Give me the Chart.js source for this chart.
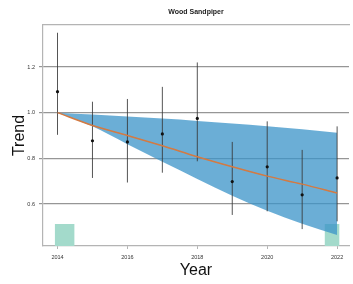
<!DOCTYPE html>
<html>
<head>
<meta charset="utf-8">
<script src="https://cdn.jsdelivr.net/npm/chart.js@4.4.1/dist/chart.umd.min.js"></script>
<style>
body{margin:0;background:#fff;}
</style>
</head>
<body>
<canvas id="trend-chart" width="353" height="284"></canvas>
<script>
//Data
const years = [2014, 2015, 2016, 2017, 2018, 2019, 2020, 2021, 2022];
const index = [1.092, 0.877, 0.872, 0.907, 0.975, 0.698, 0.763, 0.640, 0.714];
const ciLow = [0.903, 0.714, 0.694, 0.737, 0.787, 0.552, 0.568, 0.490, 0.524];
const ciHigh = [1.350, 1.048, 1.060, 1.113, 1.220, 0.872, 0.962, 0.837, 0.940];
const trend = [1.000, 0.944, 0.900, 0.855, 0.807, 0.763, 0.722, 0.687, 0.648];
const bandHigh = [1.000, 0.992, 0.983, 0.974, 0.964, 0.953, 0.941, 0.927, 0.912];
const bandLow = [1.000, 0.940, 0.862, 0.785, 0.710, 0.636, 0.570, 0.513, 0.464];
const refStart = [2013.92, 2021.64];
const refEnd = [2014.49, 2022.07];
const refTop = 0.512;
const xTicks = [2014, 2016, 2018, 2020, 2022];
const yTicks = [0.6, 0.8, 1.0, 1.2];

const chartEl = document.querySelector('#trend-chart');
const gridGrey = 'rgba(100,100,100,0.68)';
const axisGrey = '#b4b4b4';
const xMin = 2013.585, xMax = 2022.34;

Chart.defaults.font.family = '"Liberation Sans", Arial, sans-serif';

const pts = (ys) => years.map((x, i) => ({x: x, y: ys[i]}));

let datasets = [];

//points + trend
datasets.push({data: pts(index), showLine: false, pointRadius: 1.6, pointBackgroundColor: '#111',
    pointBorderWidth: 0, order: 0});
datasets.push({data: pts(trend), borderColor: 'rgb(212,122,66)', borderWidth: 1.5, pointRadius: 0,
    cubicInterpolationMode: 'monotone', fill: false, order: 1});

//error bars
years.forEach((yr, i) => {
    datasets.push({data: [{x: yr, y: ciLow[i]}, {x: yr, y: ciHigh[i]}], borderColor: 'rgba(55,55,55,0.85)',
        borderWidth: 1, pointRadius: 0, fill: false, order: 2});
});

//confidence band
datasets.push({data: pts(bandHigh), borderWidth: 0, borderColor: 'transparent', pointRadius: 0,
    cubicInterpolationMode: 'monotone', backgroundColor: 'rgba(58,147,200,0.75)', fill: '+1', order: 3});
datasets.push({data: pts(bandLow), borderWidth: 0, borderColor: 'transparent', pointRadius: 0,
    cubicInterpolationMode: 'monotone', fill: false, order: 3});

//reference blocks
refStart.forEach((s, i) => {
    datasets.push({data: [{x: s, y: refTop}, {x: refEnd[i], y: refTop}], borderWidth: 0,
        borderColor: 'transparent', pointRadius: 0, backgroundColor: 'rgb(163,218,203)', fill: 'start', order: 4});
});

const theChart = new Chart(chartEl, {
    type: 'line',
    data: {datasets: datasets},
    options: {
        responsive: false,
        animation: false,
        devicePixelRatio: 1,
        layout: {padding: 0},
        plugins: {legend: {display: false}, tooltip: {enabled: false}},
        scales: {
            x: {
                type: 'linear', position: 'bottom', min: xMin, max: xMax,
                afterBuildTicks: (s) => { s.ticks = xTicks.map(v => ({value: v})); },
                afterFit: (s) => { s.height = 38; },
                grid: {drawOnChartArea: false, drawTicks: true, tickLength: 3, color: axisGrey, lineWidth: 1},
                border: {color: axisGrey, width: 1.2},
                ticks: {font: {size: 5.5}, color: '#333', padding: 5, maxRotation: 0, callback: (v) => String(v)},
                title: {display: true, text: 'Year', font: {size: 16}, color: '#111', padding: {top: 0, bottom: 3.5}}
            },
            x2: {
                type: 'linear', position: 'top', min: xMin, max: xMax,
                ticks: {display: false},
                grid: {display: false},
                border: {color: axisGrey, width: 1.2},
                afterFit: (s) => { s.height = 25; },
                title: {display: true, text: 'Wood Sandpiper', font: {size: 7, weight: 'bold'}, color: '#222',
                    padding: {top: 7.5, bottom: 0}}
            },
            y: {
                min: 0.416, max: 1.384, z: 1,
                afterBuildTicks: (s) => { s.ticks = yTicks.map(v => ({value: v})); },
                afterFit: (s) => { s.width = 43; },
                grid: {color: gridGrey, lineWidth: 1.2, tickLength: 4},
                border: {color: axisGrey, width: 1.2},
                ticks: {font: {size: 5.5}, color: '#333', padding: 4, callback: (v) => v.toFixed(1)},
                title: {display: true, text: 'Trend', font: {size: 16}, color: '#111', padding: {top: 10, bottom: 0}}
            }
        }
    }
});
</script>
</body>
</html>
